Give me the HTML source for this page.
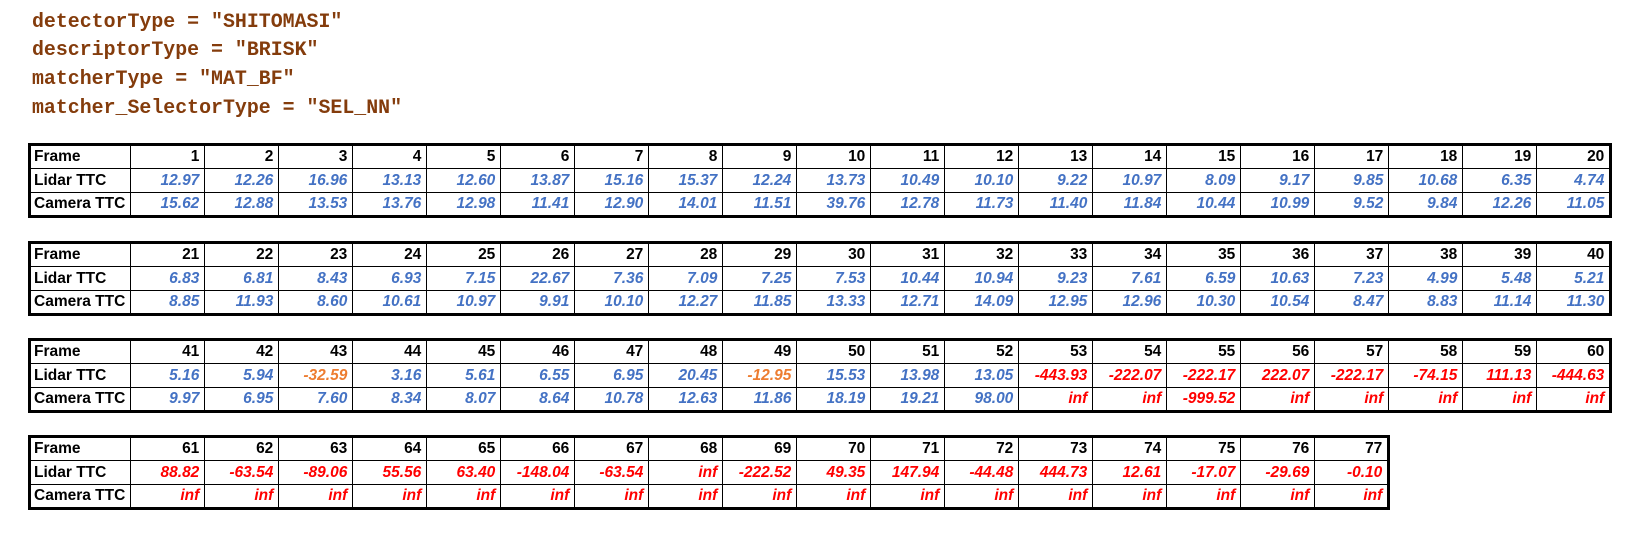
<!DOCTYPE html>
<html><head><meta charset="utf-8"><style>
body{margin:0;background:#fff;width:1635px;height:536px;position:relative;overflow:hidden}
.cfg{position:absolute;left:32px;font-family:"Liberation Mono",monospace;font-weight:bold;font-size:19.9px;color:#843c0c;line-height:22px}
.t{position:absolute;left:28px;border-collapse:collapse;border:3px solid #000;font-family:"Liberation Sans",sans-serif;font-weight:bold;font-size:15.5px;table-layout:fixed}
.t td{border:1px solid #000;height:24px;padding:0 5px 0 3px;text-align:right;white-space:nowrap;overflow:hidden;box-sizing:border-box}
.t td.h{text-align:left;width:99px}
.t td.v{width:74px}
.b{color:#4472c4;font-style:italic}.r{color:#ff0000;font-style:italic}.o{color:#ed7d31;font-style:italic}
</style></head><body>
<div class="cfg" style="top:11px">detectorType = "SHITOMASI"</div>
<div class="cfg" style="top:39px">descriptorType = "BRISK"</div>
<div class="cfg" style="top:68px">matcherType = "MAT_BF"</div>
<div class="cfg" style="top:97px">matcher_SelectorType = "SEL_NN"</div>
<div id="wrap"></div>
<script>
const lidar=["12.97","12.26","16.96","13.13","12.60","13.87","15.16","15.37","12.24","13.73","10.49","10.10","9.22","10.97","8.09","9.17","9.85","10.68","6.35","4.74",
"6.83","6.81","8.43","6.93","7.15","22.67","7.36","7.09","7.25","7.53","10.44","10.94","9.23","7.61","6.59","10.63","7.23","4.99","5.48","5.21",
"5.16","5.94","-32.59","3.16","5.61","6.55","6.95","20.45","-12.95","15.53","13.98","13.05","-443.93","-222.07","-222.17","222.07","-222.17","-74.15","111.13","-444.63",
"88.82","-63.54","-89.06","55.56","63.40","-148.04","-63.54","inf","-222.52","49.35","147.94","-44.48","444.73","12.61","-17.07","-29.69","-0.10"];
const camera=["15.62","12.88","13.53","13.76","12.98","11.41","12.90","14.01","11.51","39.76","12.78","11.73","11.40","11.84","10.44","10.99","9.52","9.84","12.26","11.05",
"8.85","11.93","8.60","10.61","10.97","9.91","10.10","12.27","11.85","13.33","12.71","14.09","12.95","12.96","10.30","10.54","8.47","8.83","11.14","11.30",
"9.97","6.95","7.60","8.34","8.07","8.64","10.78","12.63","11.86","18.19","19.21","98.00","inf","inf","-999.52","inf","inf","inf","inf","inf",
"inf","inf","inf","inf","inf","inf","inf","inf","inf","inf","inf","inf","inf","inf","inf","inf","inf"];
const tableTops=[143,241,338,435];
const wrap=document.getElementById('wrap');
function cls(i,isL){if(i>=52)return 'r';if(isL&&(i===42||i===48))return 'o';return 'b';}
tableTops.forEach((top,ti)=>{
  const t=document.createElement('table');t.className='t';t.style.top=top+'px';
  
  
  const s=ti*20,e=Math.min(s+20,lidar.length);
  [['Frame','frame-row'],['Lidar TTC','lidar-row'],['Camera TTC','camera-row']].forEach(([lab,nm],ri)=>{
    const tr=t.insertRow();
    
    
    const h=tr.insertCell();h.className='h';h.textContent=lab;
    
    
    for(let i=s;i<e;i++){
      const c=tr.insertCell();
      if(ri===0){c.className='v';c.textContent=i+1;}
      else if(ri===1){c.className='v '+cls(i,true);c.textContent=lidar[i];}
      else{c.className='v '+cls(i,false);c.textContent=camera[i];}
      
      
    }
  });
  wrap.appendChild(t);
});
</script>
</body></html>
